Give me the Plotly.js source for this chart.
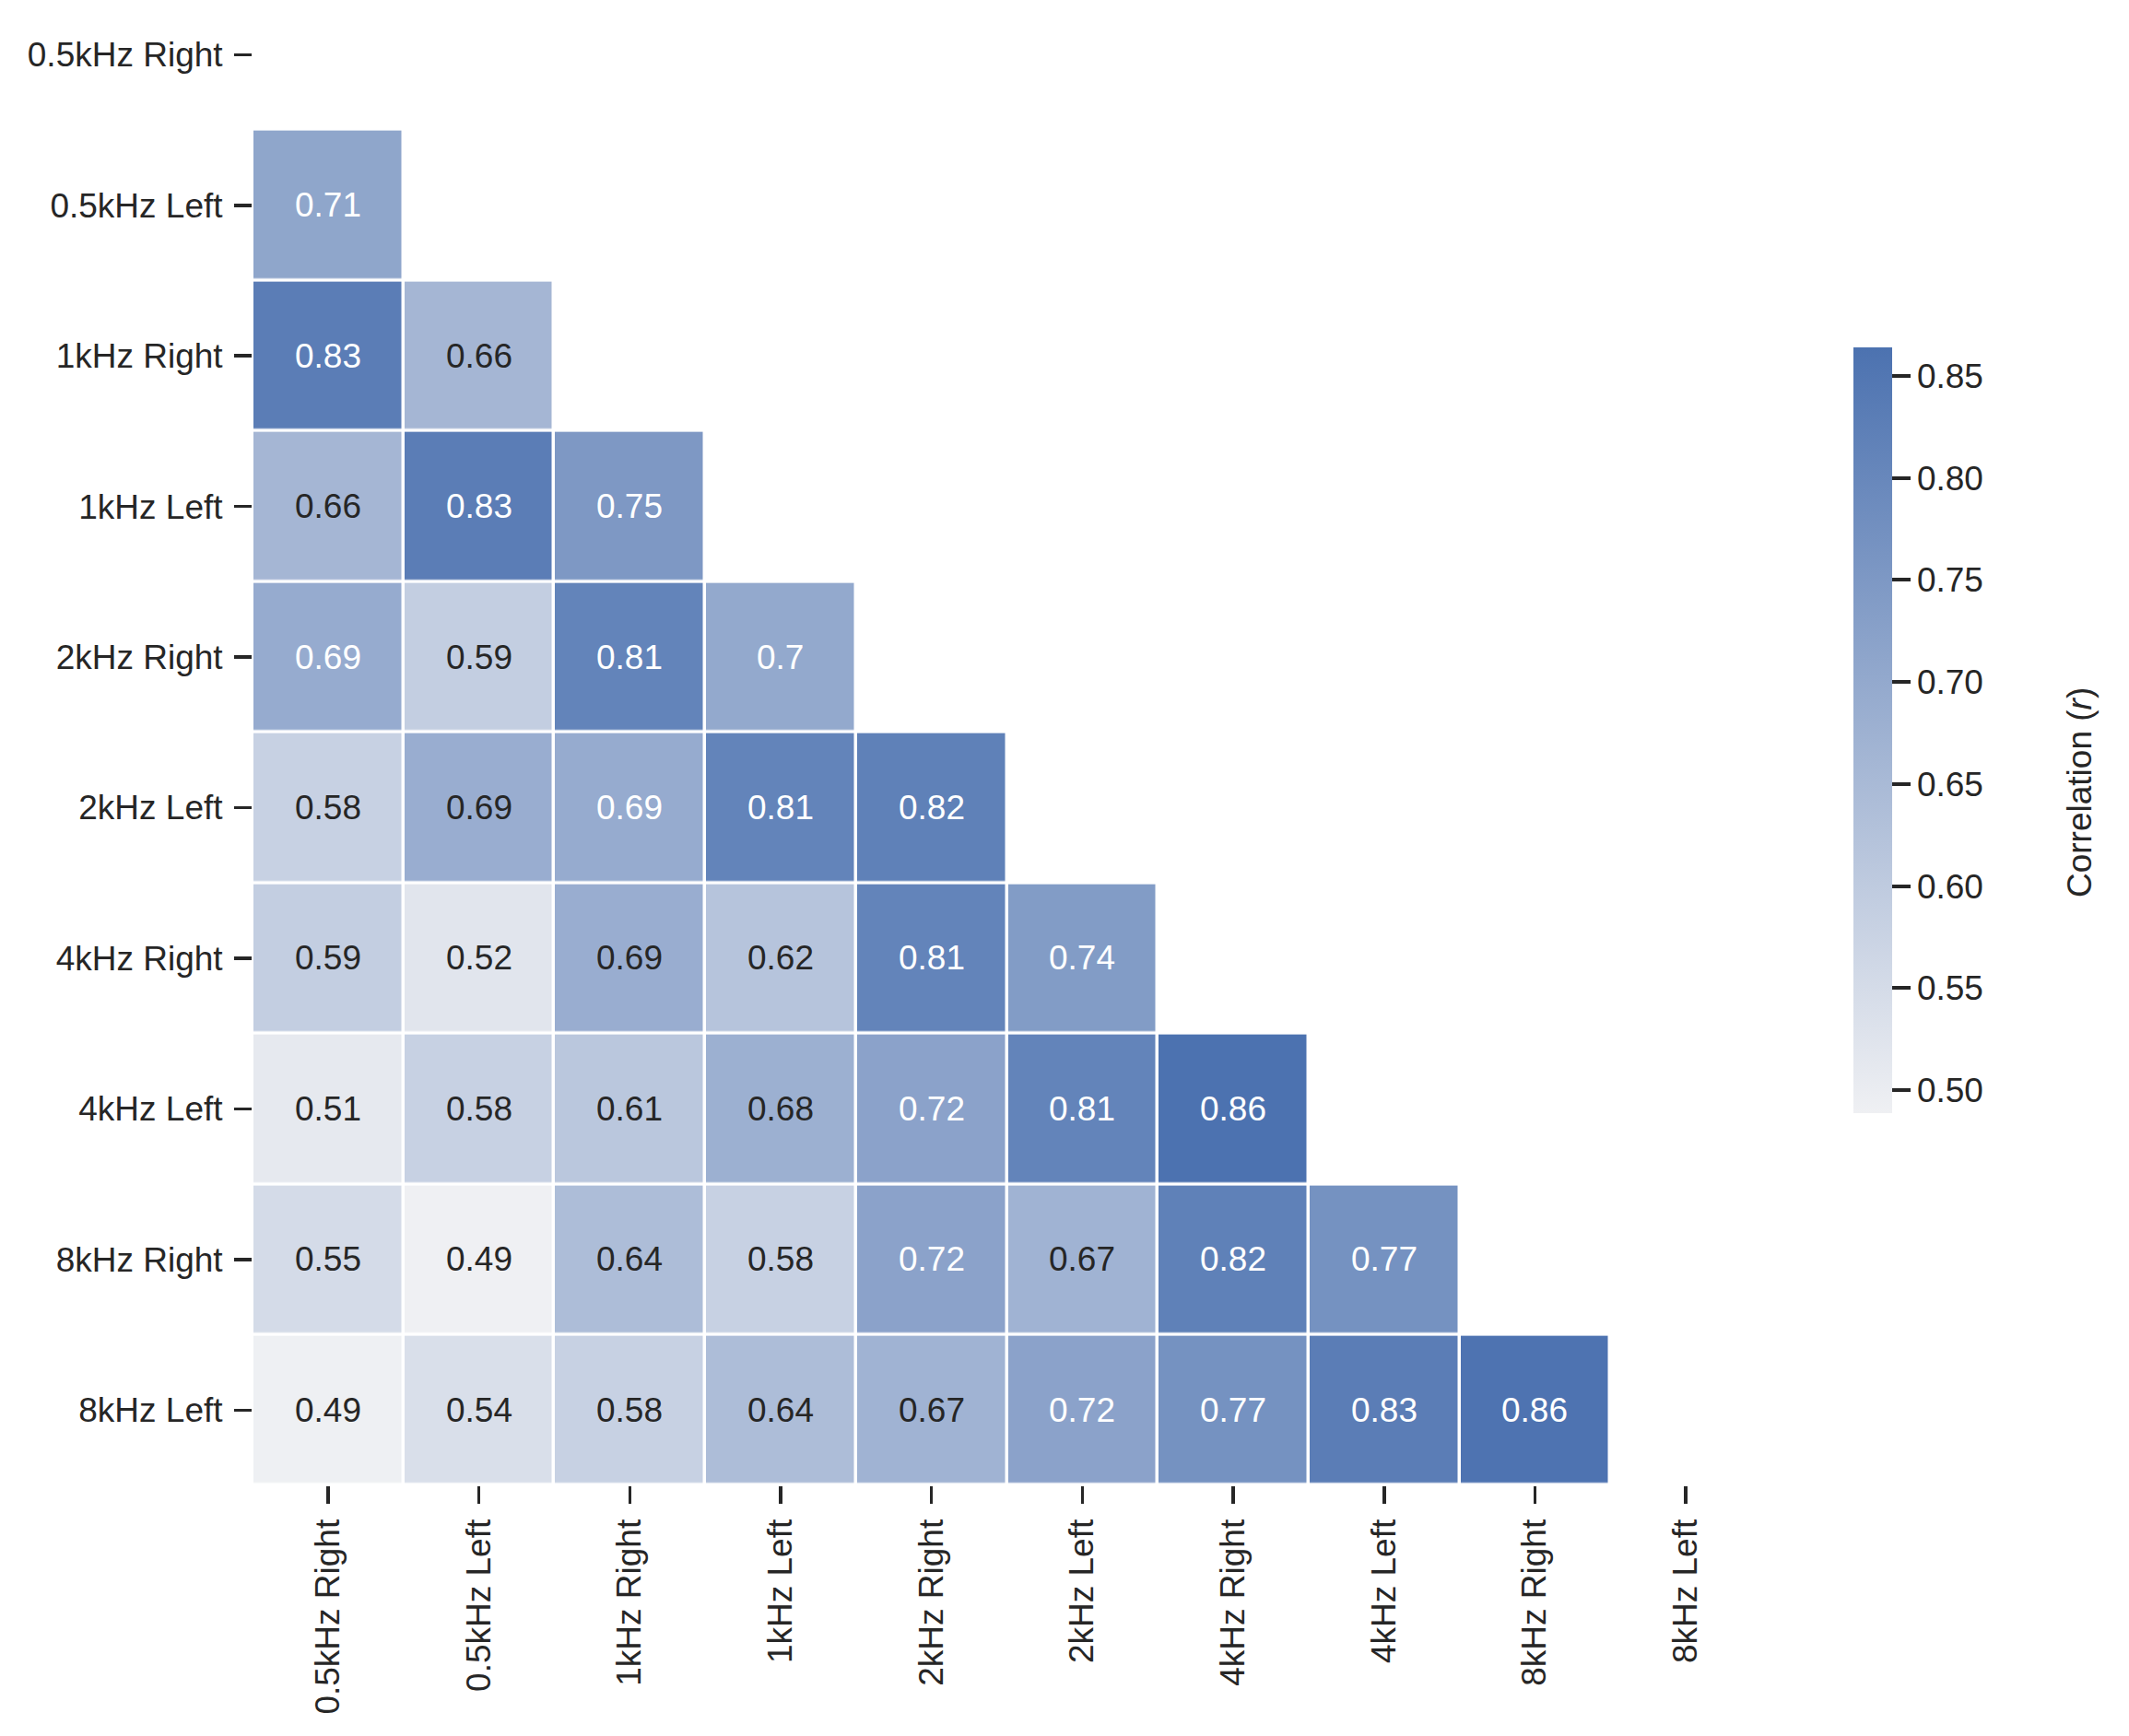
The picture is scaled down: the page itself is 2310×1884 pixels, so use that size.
<!DOCTYPE html>
<html><head><meta charset="utf-8">
<script src="https://cdn.plot.ly/plotly-3.0.1.min.js"></script>
<style>html,body{margin:0;padding:0;background:#fff}</style>
</head><body><div id="chart" style="width:2310px;height:1884px"></div>
<script>
// Category labels (rows top->bottom, columns left->right)
const labels = ['0.5kHz Right','0.5kHz Left','1kHz Right','1kHz Left','2kHz Right','2kHz Left','4kHz Right','4kHz Left','8kHz Right','8kHz Left'];

// Lower-triangle correlation values, one array per row (row 0 is fully masked)
const row0 = [];
const row1 = [0.710];
const row2 = [0.830, 0.660];
const row3 = [0.660, 0.830, 0.750];
const row4 = [0.693, 0.590, 0.810, 0.700];
const row5 = [0.580, 0.687, 0.693, 0.810, 0.820];
const row6 = [0.590, 0.520, 0.687, 0.620, 0.810, 0.740];
const row7 = [0.510, 0.580, 0.610, 0.680, 0.720, 0.810, 0.864];
const row8 = [0.550, 0.489, 0.640, 0.580, 0.720, 0.670, 0.820, 0.770];
const row9 = [0.490, 0.540, 0.580, 0.640, 0.670, 0.720, 0.770, 0.830, 0.860];

// Colorbar tick values
const cbTicks = [0.50, 0.55, 0.60, 0.65, 0.70, 0.75, 0.80, 0.85];

const rows = [row0,row1,row2,row3,row4,row5,row6,row7,row8,row9];
const z = rows.map(r => labels.map((_, j) => (j < r.length ? r[j] : null)));

const FONT = 'Liberation Sans, Arial, sans-serif';
const DARK = '#262626';
const FS = 37;

const annotations = [];
rows.forEach((r, i) => {
  r.forEach((v, j) => {
    annotations.push({
      x: labels[j], y: labels[i], xref: 'x', yref: 'y',
      text: Number(v.toPrecision(2)).toString(),
      showarrow: false,
      font: {family: FONT, size: FS, color: v > 0.69 ? '#ffffff' : DARK}
    });
  });
});

// colorbar title
annotations.push({
  xref: 'paper', yref: 'paper',
  x: (2256 - 274) / 1637, y: (1612 - 860) / 1612,
  xanchor: 'center', yanchor: 'middle',
  text: 'Correlation (<i>r</i>)', textangle: -90, showarrow: false,
  font: {family: FONT, size: FS, color: DARK}
});

const trace = {
  type: 'heatmap',
  x: labels, y: labels, z: z,
  zmin: 0.4887, zmax: 0.864,
  colorscale: [[0, 'rgb(239,240,243)'], [1, 'rgb(76,114,176)']],
  xgap: 3.5, ygap: 3.5,
  hoverongaps: false,
  colorbar: {
    thickness: 42, thicknessmode: 'pixels',
    len: 831, lenmode: 'pixels',
    x: 2011 / 2310, xref: 'container', xanchor: 'left',
    y: 1 - 377 / 1612, yref: 'paper', yanchor: 'top',
    xpad: 0, ypad: 0, outlinewidth: 0,
    ticks: 'outside', ticklen: 20, tickwidth: 4, tickcolor: DARK,
    tickvals: cbTicks, ticktext: cbTicks.map(v => v.toFixed(2)),
    tickfont: {family: FONT, size: FS, color: DARK}
  }
};

const layout = {
  width: 2310, height: 1884,
  margin: {l: 274, r: 399, t: 0, b: 272, pad: 0},
  paper_bgcolor: '#fff', plot_bgcolor: '#fff',
  font: {family: FONT, size: FS, color: DARK},
  xaxis: {
    type: 'category', range: [-0.5, 9.5], showgrid: false, zeroline: false, showline: false,
    ticks: 'outside', ticklen: 19, tickwidth: 3.5, tickcolor: DARK, tickangle: -90,
    ticklabelstandoff: 2,
    tickfont: {family: FONT, size: FS, color: DARK}, fixedrange: true
  },
  yaxis: {
    type: 'category', range: [9.5, -0.363], showgrid: false, zeroline: false, showline: false,
    ticks: 'outside', ticklen: 19, tickwidth: 3.5, tickcolor: DARK,
    ticklabelstandoff: 5,
    tickfont: {family: FONT, size: FS, color: DARK}, fixedrange: true
  },
  annotations: annotations,
  showlegend: false
};

Plotly.newPlot('chart', [trace], layout, {displayModeBar: false, staticPlot: true});
</script>
</body></html>
